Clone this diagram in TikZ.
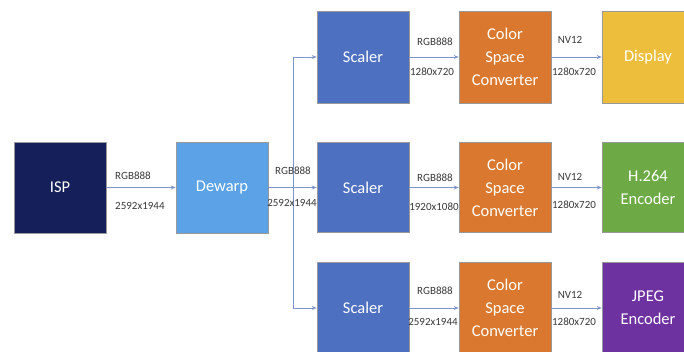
\documentclass[tikz,border=0pt]{standalone}
\usepackage{fontspec}
\setmainfont{Carlito}
\usetikzlibrary{arrows.meta}
\definecolor{ispc}{HTML}{15205A}
\definecolor{dewc}{HTML}{5BA3E6}
\definecolor{scac}{HTML}{4E70C0}
\definecolor{cscc}{HTML}{D9782E}
\definecolor{disc}{HTML}{EDBE3B}
\definecolor{h264c}{HTML}{6DAA45}
\definecolor{jpgc}{HTML}{6E31A0}
\definecolor{arrc}{HTML}{7F95CC}
\definecolor{labc}{HTML}{3A3A3A}
\tikzset{
  blk/.style={draw=black!40, line width=0.6pt, minimum width=92pt, minimum height=92pt,
    inner sep=0pt, align=center, text=white, font=\fontsize{16.5}{23}\selectfont},
  conn/.style={draw=arrc, line width=0.8pt, -{Stealth[length=5pt,width=4pt]}},
  lab/.style={text=labc, font=\fontsize{11}{13}\selectfont, inner sep=0pt}
}
\begin{document}
\begin{tikzpicture}[x=1pt,y=-1pt]
\useasboundingbox (0,0) rectangle (684,351);
\clip (0,0) rectangle (684,351);
\fill[white] (0,0) rectangle (684,351);
% nodes
\node[blk, fill=ispc, minimum height=91pt] (isp) at (60,187.5) {ISP};
\node[blk, fill=dewc, minimum height=91pt] (dew) at (222,187.5) {Dewarp};
\node[blk, fill=scac] (sc1) at (363,57) {Scaler};
\node[blk, fill=scac, minimum height=90pt] (sc2) at (363,187.5) {Scaler};
\node[blk, fill=scac] (sc3) at (363,308) {Scaler};
\node[blk, fill=cscc] (cs1) at (505,57) {Color\\Space\\Converter};
\node[blk, fill=cscc, minimum height=90pt] (cs2) at (505,187.5) {Color\\Space\\Converter};
\node[blk, fill=cscc] (cs3) at (505,308) {Color\\Space\\Converter};
\node[blk, fill=disc] (dis) at (648,57) {Display};
\node[blk, fill=h264c, minimum height=90pt] (h264) at (648,187.5) {H.264\\Encoder};
\node[blk, fill=jpgc] (jpg) at (648,308) {JPEG\\Encoder};
% connectors
\coordinate (br) at (293,187.5);
\draw[conn] (isp) -- (dew);
\draw[conn] (dew) -- (sc2);
\draw[conn] (br) |- (sc1.west);
\draw[conn] (br) |- (sc3.west);
\draw[conn] (sc1) -- (cs1);
\draw[conn] (sc2) -- (cs2);
\draw[conn] (sc3) -- (cs3);
\draw[conn] (cs1) -- (dis);
\draw[conn] (cs2) -- (h264);
\draw[conn] (cs3) -- (jpg);
% labels
\node[lab, anchor=west] (l1a) at (115,176) {RGB888};
\node[lab, anchor=west] (l1b) at (115,206) {2592x1944};
\node[lab] (l2a) at (293,171) {RGB888};
\node[lab] (l2b) at (292,203) {2592x1944};
\node[lab] (l3a) at (435,42) {RGB888};
\node[lab] (l3b) at (432,72) {1280x720};
\node[lab] (l4a) at (570,40) {NV12};
\node[lab] (l4b) at (574,72) {1280x720};
\node[lab] (l5a) at (435,178) {RGB888};
\node[lab] (l5b) at (434,207) {1920x1080};
\node[lab] (l6a) at (570,177) {NV12};
\node[lab] (l6b) at (574,205) {1280x720};
\node[lab] (l7a) at (435,291) {RGB888};
\node[lab] (l7b) at (433,322) {2592x1944};
\node[lab] (l8a) at (570,295) {NV12};
\node[lab] (l8b) at (574,322) {1280x720};
\end{tikzpicture}
\end{document}
